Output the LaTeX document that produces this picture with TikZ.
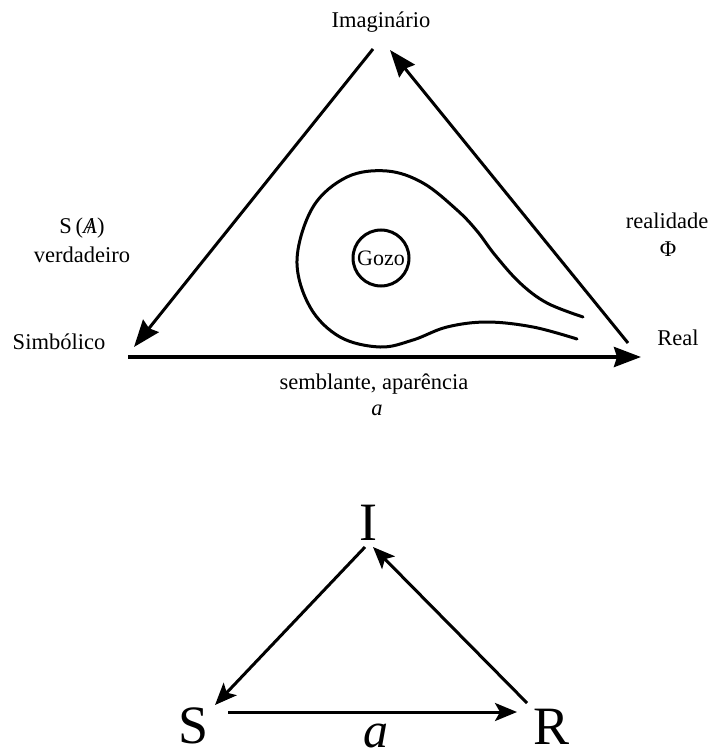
\documentclass[tikz,border=0pt]{standalone}
\usepackage{fontspec}
\setmainfont{Liberation Serif}
\usetikzlibrary{arrows.meta}
\begin{document}
\begin{tikzpicture}[x=1pt,y=-1pt,
  lbl/.style={inner sep=0pt, anchor=base, font=\fontsize{22.5}{26}\selectfont},
  big/.style={inner sep=0pt, anchor=base, font=\fontsize{54}{60}\selectfont},
  edgetop/.style={line width=3pt, -{Stealth[length=27pt,width=20pt,inset=3pt]}},
  edgebot/.style={line width=3pt, -{Stealth[length=22pt,width=18pt,inset=5pt]}},
  curve/.style={line width=3pt, line cap=round}
]
\useasboundingbox (0,0) rectangle (712,749);
% ---------- top diagram ----------
\node[lbl] (imag) at (381,28) {Imaginário};
\node[lbl] (simb) at (59,349) {Simbólico};
\node[lbl] (real) at (678,345) {Real};
\node[lbl] (sa) at (82,233) {S\,(\ooalign{\textit{A}\cr\hidewidth/\hidewidth})};
\node[lbl] (verd) at (82,262) {verdadeiro};
\node[lbl] (realid) at (667,228) {realidade};
\node[lbl] (phi) at (668,256) {Φ};
\node[lbl] (sembl) at (374,389) {semblante, aparência};
\node[lbl] (atop) at (377,415) {\textit{a}};
\node[draw, circle, line width=3pt, minimum size=56pt, inner sep=0pt,
      font=\fontsize{22}{24}\selectfont] (gozo) at (381,258) {Gozo};

\coordinate (tI1) at (373,49);
\coordinate (tS1) at (134,347);
\coordinate (tR1) at (628,343);
\coordinate (tI2) at (390,50);
\coordinate (tS2) at (128,357);
\coordinate (tR2) at (641,357);
\draw[edgetop] (tI1) -- (tS1);
\draw[edgetop] (tR1) -- (tI2);
\draw[edgetop, line width=3.8pt] (tS2) -- (tR2);

\draw[curve] plot[smooth, tension=0.6] coordinates {
  (583,317) (547,303) (520,283) (495,255) (477,231) (457,210) (423,183)
  (387,171) (347,177) (313,207) (297,260) (310,307) (340,337) (380,347)
  (413,340) (447,327) (487,322) (533,327) (577,339)};

% ---------- bottom diagram ----------
\node[big] (I) at (368,540) {I};
\node[big] (S) at (194,743) {S};
\node[big] (R) at (552,744) {R};
\node[big, font=\fontsize{50}{56}\selectfont] (abot) at (376,747) {\textit{a}};
\coordinate (bI1) at (365,547);
\coordinate (bS1) at (215,705);
\coordinate (bR1) at (527,703);
\coordinate (bI2) at (373,547);
\coordinate (bS2) at (228,712);
\coordinate (bR2) at (517,712);
\draw[edgebot] (bI1) -- (bS1);
\draw[edgebot] (bR1) -- (bI2);
\draw[edgebot] (bS2) -- (bR2);
\end{tikzpicture}
\end{document}
